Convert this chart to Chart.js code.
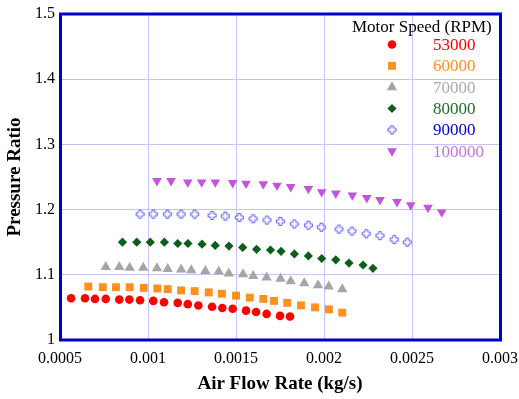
<!DOCTYPE html>
<html>
<head>
<meta charset="utf-8">
<script src="https://cdn.jsdelivr.net/npm/chart.js@4/dist/chart.umd.min.js"></script>
<style>
  html, body { margin: 0; padding: 0; background: #fff; }
  canvas { display: block; }
</style>
</head>
<body>
<canvas id="chart" width="519" height="399"></canvas>
<script>
// Motor speeds (legend entries)
const speeds = ['53000', '60000', '70000', '80000', '90000', '100000'];

// Air flow rate (kg/s) and pressure ratio
const flow53 = [0.000563, 0.000642, 0.000699, 0.00076, 0.000837, 0.000894, 0.000955, 0.00103, 0.001091, 0.001169,
                0.001226, 0.001286, 0.001364, 0.001422, 0.001481, 0.001557, 0.001614, 0.001674, 0.00175, 0.001807];
const ratio53 = [1.064, 1.064, 1.063, 1.063, 1.062, 1.062, 1.061, 1.060, 1.058, 1.057,
                 1.055, 1.053, 1.051, 1.049, 1.048, 1.045, 1.043, 1.040, 1.037, 1.036];

const flow60 = [0.000661, 0.000743, 0.000818, 0.000896, 0.000976, 0.001053, 0.001112, 0.001188, 0.001265, 0.001345,
                0.00142, 0.0015, 0.001578, 0.001655, 0.001716, 0.001791, 0.001869, 0.001949, 0.002028, 0.002104];
const ratio60 = [1.082, 1.081, 1.081, 1.081, 1.080, 1.079, 1.078, 1.076, 1.075, 1.073,
                 1.071, 1.068, 1.065, 1.063, 1.060, 1.057, 1.053, 1.050, 1.047, 1.042];

const flow70 = [0.00076, 0.000837, 0.000896, 0.000973, 0.001051, 0.001112, 0.001188, 0.001246, 0.001326, 0.001402,
                0.001459, 0.00154, 0.001598, 0.001674, 0.001753, 0.001811, 0.001888, 0.001966, 0.002027, 0.002104];
const ratio70 = [1.112, 1.112, 1.111, 1.111, 1.110, 1.109, 1.108, 1.107, 1.106, 1.105,
                 1.102, 1.101, 1.098, 1.096, 1.094, 1.090, 1.087, 1.084, 1.082, 1.078];

const flow80 = [0.000855, 0.000936, 0.001013, 0.001093, 0.001169, 0.001227, 0.001307, 0.001382, 0.00146, 0.001538,
                0.001617, 0.001696, 0.001756, 0.001832, 0.001911, 0.001987, 0.002067, 0.002142, 0.002222, 0.002278];
const ratio80 = [1.150, 1.150, 1.150, 1.150, 1.148, 1.148, 1.147, 1.145, 1.144, 1.142,
                 1.139, 1.138, 1.136, 1.132, 1.129, 1.125, 1.123, 1.118, 1.115, 1.110];

const flow90 = [0.000955, 0.00103, 0.00111, 0.001188, 0.001265, 0.001364, 0.001439, 0.001519, 0.001597, 0.001676,
                0.001752, 0.001831, 0.001911, 0.001985, 0.002085, 0.002159, 0.00224, 0.002318, 0.002399, 0.002473];
const ratio90 = [1.193, 1.193, 1.193, 1.193, 1.193, 1.191, 1.190, 1.188, 1.186, 1.184,
                 1.182, 1.178, 1.176, 1.173, 1.170, 1.167, 1.163, 1.160, 1.154, 1.150];

const flow100 = [0.001051, 0.001131, 0.001226, 0.001305, 0.001382, 0.001481, 0.001557, 0.001655, 0.001733, 0.001811,
                 0.001911, 0.001987, 0.002067, 0.002161, 0.002243, 0.002318, 0.002415, 0.002493, 0.002591, 0.002669];
const ratio100 = [1.244, 1.244, 1.242, 1.242, 1.242, 1.241, 1.240, 1.239, 1.237, 1.235,
                  1.232, 1.227, 1.225, 1.222, 1.218, 1.215, 1.212, 1.207, 1.203, 1.196];

const xTickLabels = ['0.0005', '0.001', '0.0015', '0.002', '0.0025', '0.003'];
const yTickLabels = ['1', '1.1', '1.2', '1.3', '1.4', '1.5'];

const serif = '"Liberation Serif", "Times New Roman", serif';

// hollow plus marker for the 90000 series
function hollowPlus() {
    const c = document.createElement('canvas');
    c.width = 11; c.height = 11;
    const g = c.getContext('2d');
    const m = 5.5, a = 4, w = 1.5;
    g.beginPath();
    g.moveTo(m - w, m - a); g.lineTo(m + w, m - a); g.lineTo(m + w, m - w);
    g.lineTo(m + a, m - w); g.lineTo(m + a, m + w); g.lineTo(m + w, m + w);
    g.lineTo(m + w, m + a); g.lineTo(m - w, m + a); g.lineTo(m - w, m + w);
    g.lineTo(m - a, m + w); g.lineTo(m - a, m - w); g.lineTo(m - w, m - w);
    g.closePath();
    g.fillStyle = '#fff';
    g.fill();
    g.strokeStyle = '#5c5cff';
    g.lineWidth = 1;
    g.stroke();
    return c;
}

const series = [
    { flow: flow53, ratio: ratio53, color: '#ff0000', text: '#ff0000', style: 'circle', r: 4.3, rot: 0 },
    { flow: flow60, ratio: ratio60, color: '#ff8f1f', text: '#ff8f1f', style: 'rect', r: 5.6, rot: 0 },
    { flow: flow70, ratio: ratio70, color: '#a6a6a6', text: '#aaaaaa', style: 'triangle', r: 6, rot: 0 },
    { flow: flow80, ratio: ratio80, color: '#0d5e1a', text: '#1f6e24', style: 'rectRot', r: 4.6, rot: 0 },
    { flow: flow90, ratio: ratio90, color: '#5c5cff', text: '#0000c8', style: hollowPlus(), r: 5, rot: 0 },
    { flow: flow100, ratio: ratio100, color: '#c255dc', text: '#c474e2', style: 'triangle', r: 5.6, rot: 180 }
];

const datasets = series.map((s, i) => ({
    label: speeds[i],
    data: s.flow.map((x, j) => ({ x: x, y: s.ratio[j] })),
    backgroundColor: s.color,
    borderColor: s.color,
    borderWidth: 0,
    pointStyle: s.style,
    pointRadius: s.r,
    pointRotation: s.rot,
    showLine: false
}));

const frameAndLegend = {
    id: 'frameAndLegend',
    afterDraw(chart) {
        const ctx = chart.ctx;
        const a = chart.chartArea;
        ctx.save();
        ctx.strokeStyle = '#0000cc';
        ctx.lineWidth = 3;
        ctx.strokeRect(a.left + 0.5, a.top, a.right - a.left, a.bottom - a.top);

        ctx.fillStyle = '#000';
        ctx.font = '17px ' + serif;
        ctx.textBaseline = 'alphabetic';
        ctx.textAlign = 'left';
        ctx.fillText('Motor Speed (RPM)', 352, 31.5);

        series.forEach((s, i) => {
            const base = 50 + i * 21.33;
            const cy = base - 5.5;
            ctx.fillStyle = s.color;
            ctx.strokeStyle = s.color;
            ctx.lineWidth = 0;
            if (Chart.helpers && Chart.helpers.drawPoint) {
                Chart.helpers.drawPoint(ctx, { pointStyle: s.style, rotation: s.rot, radius: s.r, borderWidth: 0 }, 392, cy);
            }
            ctx.fillStyle = s.text;
            ctx.fillText(speeds[i], 433, base);
        });
        ctx.restore();
    }
};

new Chart(document.getElementById('chart'), {
    type: 'scatter',
    data: { datasets: datasets },
    options: {
        responsive: false,
        animation: false,
        layout: { padding: { top: 14, right: 19, left: 0, bottom: 0 } },
        plugins: { legend: { display: false }, tooltip: { enabled: false } },
        scales: {
            x: {
                type: 'linear',
                min: 0.0005,
                max: 0.003,
                afterFit: s => { s.height = 59; s.paddingLeft = 0; s.paddingRight = 0; },
                border: { display: false },
                grid: { color: '#c4c4f4', lineWidth: 1, drawTicks: false },
                ticks: {
                    stepSize: 0.0005,
                    padding: 9,
                    color: '#000',
                    font: { family: serif, size: 16 },
                    maxRotation: 0,
                    callback: (v, i) => xTickLabels[i]
                },
                title: {
                    display: true,
                    text: 'Air Flow Rate (kg/s)',
                    color: '#000',
                    font: { family: serif, size: 19, weight: 'bold' },
                    padding: { top: 0, bottom: 4 }
                }
            },
            y: {
                type: 'linear',
                min: 1,
                max: 1.5,
                afterFit: s => { s.width = 60; s.paddingTop = 0; s.paddingBottom = 0; },
                border: { display: false },
                grid: { color: '#c4c4f4', lineWidth: 1, drawTicks: false },
                ticks: {
                    stepSize: 0.1,
                    padding: 5,
                    color: '#000',
                    font: { family: serif, size: 16 },
                    callback: (v, i) => yTickLabels[i]
                },
                title: {
                    display: true,
                    text: 'Pressure Ratio',
                    color: '#000',
                    font: { family: serif, size: 19, weight: 'bold' },
                    padding: { top: 4, bottom: 0 }
                }
            }
        }
    },
    plugins: [frameAndLegend]
});
</script>
</body>
</html>
